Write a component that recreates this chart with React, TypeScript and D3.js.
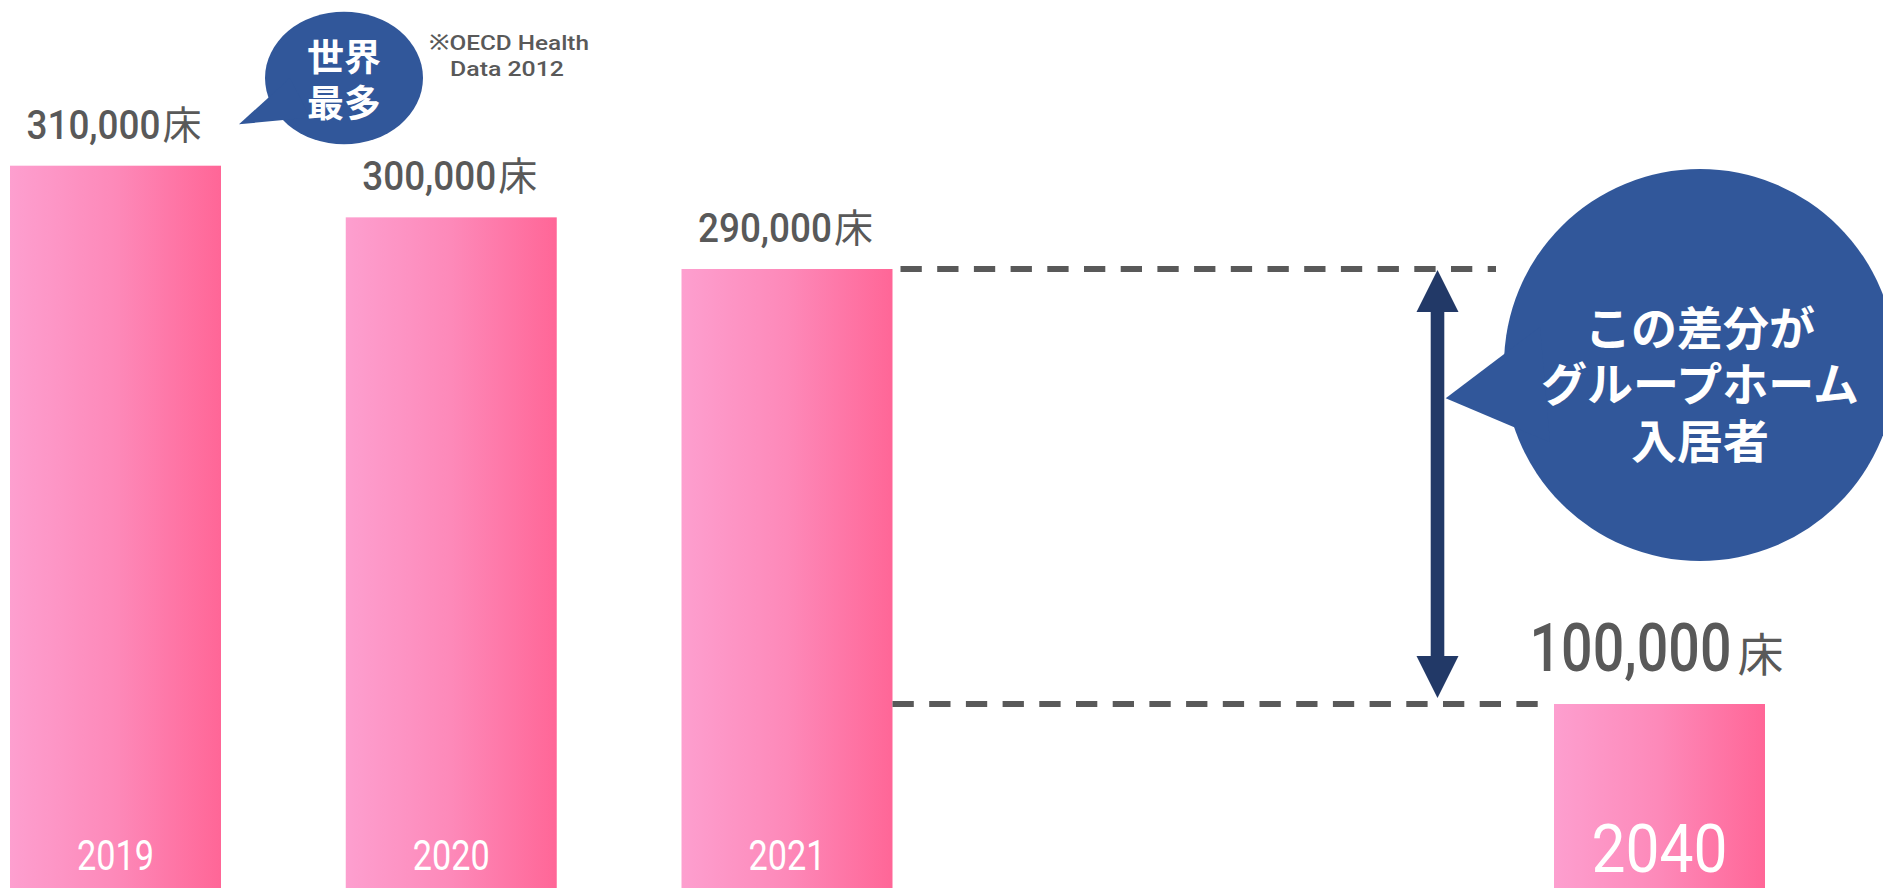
import React, { useEffect } from "react";
import * as d3 from "d3";

const W = 1883;
const H = 888;

// ---- data ----
const years = [2019, 2020, 2021, 2040];
const yearLabels = ["2019", "2020", "2021", "2040"];
const beds = [310000, 300000, 290000, 100000];
const bedLabels = ["310,000", "300,000", "290,000", "100,000"];
const unit = "床";
const smallBubbleLines = ["世界", "最多"];
const noteLines = ["※OECD Health", "Data 2012"];
const bigBubbleLines = ["この差分が", "グループホーム", "入居者"];

// ---- styles ----
const GRAY = "#595959";
const BUBBLE = "#31579a";
const ARROW = "#223967";
const NUM_FONT = "Roboto, 'Noto Sans', sans-serif";
const JP_FONT = "'Noto Sans CJK JP', 'Noto Sans', sans-serif";

export default function App() {
  useEffect(() => {
    document.body.style.margin = "0";
    document.body.style.overflow = "hidden";
  }, []);

  // broken-axis style infographic: piecewise linear scales
  const x = d3.scaleLinear().domain([2019, 2021, 2040]).range([115.5, 787, 1659.5]);
  const y = d3.scaleLinear().domain([100000, 290000, 310000]).range([704, 269, 165.7]);
  const barW = 211;

  const last = years.length - 1;
  const topY = y(beds[2]);
  const botY = y(beds[last]);
  const x2021R = x(years[2]) + barW / 2;
  const x2040L = x(years[last]) - barW / 2;

  const arrowX = 1437.5;
  const headW = 42;
  const headH = 42;
  const shaftW = 13.6;
  const tipTop = topY + 1;
  const tipBot = botY - 6;

  const line = d3.line<[number, number]>();

  return (
    <svg width={W} height={H} style={{ position: "absolute", left: 0, top: 0, display: "block", background: "#fff" }}>
      <defs>
        <linearGradient id="barGrad" x1="0" y1="0" x2="1" y2="0">
          <stop offset="0" stopColor="#fd9fcf" />
          <stop offset="0.5" stopColor="#fd89b9" />
          <stop offset="1" stopColor="#ff6697" />
        </linearGradient>
      </defs>

      {/* bars */}
      {years.map((yr, i) => (
        <rect key={"b" + yr} x={x(yr) - barW / 2} y={y(beds[i])} width={barW} height={H - y(beds[i])} fill="url(#barGrad)" />
      ))}

      {/* value labels */}
      {years.map((yr, i) => {
        const big = i === last;
        const cx = x(yr);
        const base = y(beds[i]) - (big ? 33 : 27);
        const numW = big ? 202 : 134;
        const numEnd = cx + (big ? 72 : 45);
        return (
          <text key={"v" + yr} y={base} fill={GRAY}>
            <tspan
              x={numEnd - numW}
              fontFamily={NUM_FONT}
              fontWeight={500}
              fontSize={big ? 66 : 40}
              textLength={numW}
              lengthAdjust="spacingAndGlyphs"
            >
              {bedLabels[i]}
            </tspan>
            <tspan x={cx + (big ? 78 : 47)} fontFamily={JP_FONT} fontSize={big ? 46 : 39}>
              {unit}
            </tspan>
          </text>
        );
      })}

      {/* year labels */}
      {years.map((yr, i) => {
        const big = i === last;
        return (
          <text
            key={"y" + yr}
            x={x(yr)}
            y={big ? 871.7 : 870}
            textAnchor="middle"
            fontFamily={NUM_FONT}
            fontSize={big ? 66 : 42}
            fill="#ffffff"
            textLength={big ? 136 : 77}
            lengthAdjust="spacingAndGlyphs"
          >
            {yearLabels[i]}
          </text>
        );
      })}

      {/* dashed guide lines */}
      <path
        d={line([[x2021R + 8, topY], [1496, topY]]) || ""}
        stroke={GRAY}
        strokeWidth={6}
        strokeDasharray="21.3 15.4"
        fill="none"
      />
      <path
        d={line([[x2021R, botY], [x2040L - 15, botY]]) || ""}
        stroke={GRAY}
        strokeWidth={6}
        strokeDasharray="21.3 15.4"
        fill="none"
      />

      {/* double arrow */}
      <rect x={arrowX - shaftW / 2} y={tipTop + headH - 1} width={shaftW} height={tipBot - tipTop - 2 * headH + 2} fill={ARROW} />
      <path
        d={(line([[arrowX, tipTop], [arrowX + headW / 2, tipTop + headH], [arrowX - headW / 2, tipTop + headH]]) || "") + "Z"}
        fill={ARROW}
      />
      <path
        d={(line([[arrowX, tipBot], [arrowX + headW / 2, tipBot - headH], [arrowX - headW / 2, tipBot - headH]]) || "") + "Z"}
        fill={ARROW}
      />

      {/* big speech bubble */}
      <circle cx={1700} cy={365} r={196} fill={BUBBLE} />
      <path d={(line([[1445.7, 398.3], [1540, 327], [1550, 442.3]]) || "") + "Z"} fill={BUBBLE} />
      <text textAnchor="middle" fontFamily={JP_FONT} fontWeight={700} fontSize={46} fill="#ffffff">
        {bigBubbleLines.map((t, i) => (
          <tspan key={"bb" + i} x={1700} y={344.5 + i * 56.5}>
            {t}
          </tspan>
        ))}
      </text>

      {/* small speech bubble */}
      <ellipse cx={344} cy={78} rx={79} ry={66.3} fill={BUBBLE} />
      <path d={(line([[239, 124.3], [290, 78], [310, 117.4]]) || "") + "Z"} fill={BUBBLE} />
      <text textAnchor="middle" fontFamily={JP_FONT} fontWeight={700} fontSize={37} fill="#ffffff">
        {smallBubbleLines.map((t, i) => (
          <tspan key={"sb" + i} x={344} y={70.5 + i * 46}>
            {t}
          </tspan>
        ))}
      </text>

      {/* source note */}
      <text textAnchor="middle" fontFamily={NUM_FONT} fontWeight={500} fontSize={21} fill={GRAY}>
        {noteLines.map((t, i) => (
          <tspan
            key={"n" + i}
            x={i === 0 ? 509 : 507}
            y={50 + i * 26}
            textLength={i === 0 ? 160 : 114}
            lengthAdjust="spacingAndGlyphs"
          >
            {t}
          </tspan>
        ))}
      </text>
    </svg>
  );
}
